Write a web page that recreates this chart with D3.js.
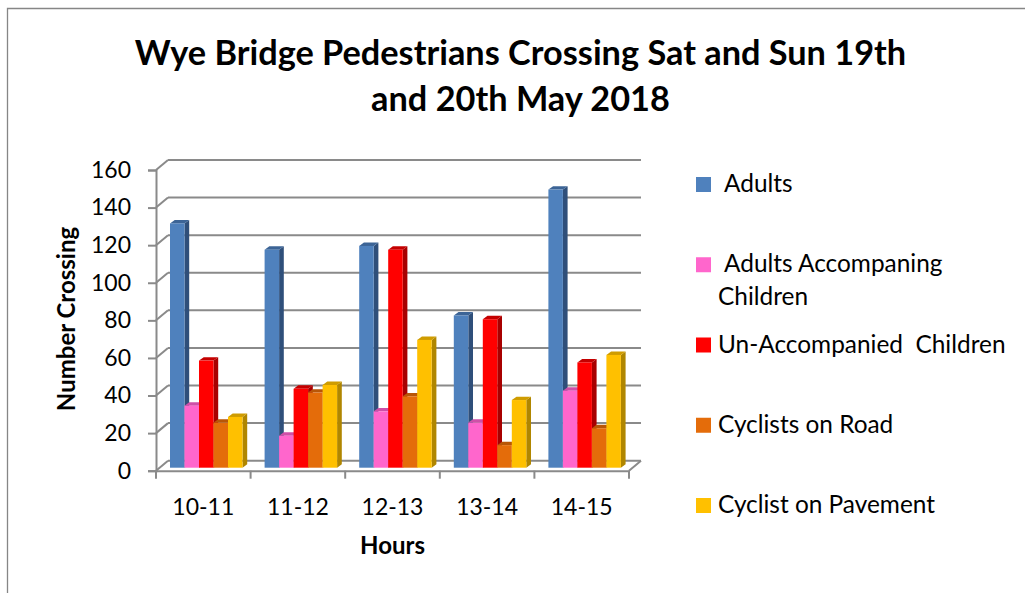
<!DOCTYPE html>
<html>
<head>
<meta charset="utf-8">
<script src="https://cdn.jsdelivr.net/npm/d3@7"></script>
<style>
html, body { margin: 0; padding: 0; background: #fff; }
svg { display: block; }
text { font-family: Lato, "Open Sans", sans-serif; fill: #000; }
.axis text { font-size: 23px; }
</style>
</head>
<body>
<div id="container"></div>
<script>
var width = 1025,
    height = 593;

var hours = ["10-11", "11-12", "12-13", "13-14", "14-15"];
var yTicks = [0, 20, 40, 60, 80, 100, 120, 140, 160];

var adults = [130, 116, 118, 81, 148];
var adultsAccompanying = [33, 17, 30, 24, 41];
var unaccompanied = [57, 42, 116, 79, 56];
var cyclistsRoad = [24, 40, 38, 12, 21];
var cyclistsPavement = [27, 44, 68, 36, 60];

var seriesNames = ["Adults", "Adults Accompaning", "Un-Accompanied  Children", "Cyclists on Road", "Cyclist on Pavement"];
var seriesValues = [adults, adultsAccompanying, unaccompanied, cyclistsRoad, cyclistsPavement];
var seriesColors = ["#4f81bd", "#ff66cc", "#ff0000", "#e46c0a", "#ffc000"];
var seriesSides = ["#2f4f7a", "#b8479a", "#a80000", "#a34c05", "#b08600"];
var seriesTops = ["#3c6496", "#cf4fa8", "#c40000", "#b85607", "#cf9c00"];

var svg = d3.select("#container")
    .append("svg")
    .attr("width", width)
    .attr("height", height);

//chart frame, only top and left show in the picture
svg.append("path")
    .attr("d", d3.line()([[7.5, height], [7.5, 8.5], [width, 8.5]]))
    .attr("fill", "none")
    .attr("stroke", "#868686")
    .attr("stroke-width", 1.3);

var x = d3.scaleBand().domain(hours).range([156, 629]);
var y = d3.scaleLinear().domain([0, 160]).range([470.7, 170]);

var wallDx = 12,
    wallDy = -10;

var gridColor = "#8a8a8a";

var wallG = svg.append("g"),
    barsG = svg.append("g"),
    axisG = svg.append("g");

//back wall lines and the slants that join them to the axis
wallG.selectAll("line.grid")
    .data(yTicks)
    .enter().append("line")
    .attr("class", "grid")
    .attr("x1", 156 + wallDx)
    .attr("x2", 629 + wallDx)
    .attr("y1", function (d) { return y(d) + wallDy; })
    .attr("y2", function (d) { return y(d) + wallDy; })
    .attr("stroke", gridColor)
    .attr("stroke-width", 2);

wallG.selectAll("line.slant")
    .data(yTicks)
    .enter().append("line")
    .attr("class", "slant")
    .attr("x1", 156)
    .attr("x2", 156 + wallDx)
    .attr("y1", function (d) { return y(d); })
    .attr("y2", function (d) { return y(d) + wallDy; })
    .attr("stroke", gridColor)
    .attr("stroke-width", 2);

wallG.append("line")
    .attr("x1", 629)
    .attr("x2", 629 + wallDx)
    .attr("y1", y(0))
    .attr("y2", y(0) + wallDy)
    .attr("stroke", gridColor)
    .attr("stroke-width", 2);

//bars, drawn series by series inside each hour
var barW = 14.5,
    groupInset = 14,
    depthX = 4.7,
    depthY = -3.4,
    barLift = 3;

function barLeft(hour, s) {
    return x(hour) + groupInset + s * barW;
}

hours.forEach(function (hour, h) {
    seriesValues.forEach(function (values, s) {
        var v = values[h],
            x0 = barLeft(hour, s),
            x1 = x0 + barW,
            y0 = y(0) - barLift,
            y1 = y(v) - barLift;
        var g = barsG.append("g");

        g.append("polygon")
            .attr("points", [[x1, y1], [x1 + depthX, y1 + depthY], [x1 + depthX, y0 + depthY], [x1, y0]].join(" "))
            .attr("fill", seriesSides[s]);
        g.append("polygon")
            .attr("points", [[x0, y1], [x0 + depthX, y1 + depthY], [x1 + depthX, y1 + depthY], [x1, y1]].join(" "))
            .attr("fill", seriesTops[s]);
        g.append("rect")
            .attr("x", x0)
            .attr("y", y1)
            .attr("width", barW)
            .attr("height", y0 - y1)
            .attr("fill", seriesColors[s]);
    });
});

//axes
var yAxis = d3.axisLeft(y).tickValues(yTicks).tickSize(8).tickPadding(17);
var xAxis = d3.axisBottom(x).tickSize(0).tickPadding(28);

var yAxisG = axisG.append("g")
    .attr("class", "axis")
    .attr("transform", "translate(156,0)")
    .call(yAxis);

var xAxisG = axisG.append("g")
    .attr("class", "axis")
    .attr("transform", "translate(0," + y(0) + ")")
    .call(xAxis);

axisG.selectAll(".axis .domain")
    .attr("stroke", gridColor)
    .attr("stroke-width", 2);
axisG.selectAll(".axis .tick line")
    .attr("stroke", gridColor)
    .attr("stroke-width", 2);

//bottom ticks sit between the categories
xAxisG.selectAll("line.sep")
    .data(d3.range(hours.length + 1))
    .enter().append("line")
    .attr("class", "sep")
    .attr("x1", function (i) { return 156 + i * x.bandwidth(); })
    .attr("x2", function (i) { return 156 + i * x.bandwidth(); })
    .attr("y1", 0)
    .attr("y2", 8)
    .attr("stroke", gridColor)
    .attr("stroke-width", 2);

//titles
var titleLines = ["Wye Bridge Pedestrians Crossing Sat and Sun 19th", "and 20th May 2018"];

svg.selectAll("text.title")
    .data(titleLines)
    .enter().append("text")
    .attr("class", "title")
    .attr("x", 520.5)
    .attr("y", function (d, i) { return 65 + i * 46; })
    .attr("text-anchor", "middle")
    .attr("font-size", "34.3px")
    .attr("font-weight", "bold")
    .text(function (d) { return d; });

svg.append("text")
    .attr("transform", "translate(75,319) rotate(-90)")
    .attr("text-anchor", "middle")
    .attr("font-size", "24px")
    .attr("font-weight", "bold")
    .text("Number Crossing");

svg.append("text")
    .attr("x", 392.5)
    .attr("y", 554)
    .attr("text-anchor", "middle")
    .attr("font-size", "24px")
    .attr("font-weight", "bold")
    .text("Hours");

//legend
var legendG = svg.append("g");
var legendIndent = [724, 724, 718, 718, 718];

seriesNames.forEach(function (name, i) {
    var cy = 184.5 + i * 80.25;

    legendG.append("rect")
        .attr("x", 696)
        .attr("y", cy - 7.5)
        .attr("width", 15)
        .attr("height", 15)
        .attr("fill", seriesColors[i]);

    legendG.append("text")
        .attr("x", legendIndent[i])
        .attr("y", cy + 7.5)
        .attr("font-size", "24.4px")
        .attr("xml:space", "preserve")
        .style("white-space", "pre")
        .text(name);
});

legendG.append("text")
    .attr("x", 718)
    .attr("y", 304.5)
    .attr("font-size", "24.4px")
    .text("Children");
</script>
</body>
</html>
